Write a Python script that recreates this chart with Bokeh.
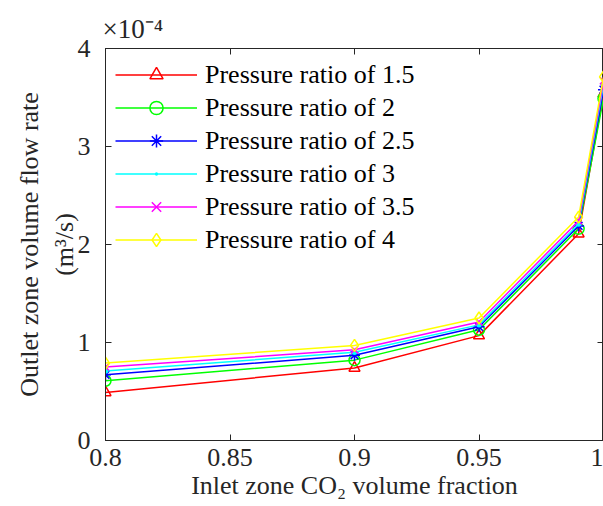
from bokeh.plotting import figure
from bokeh.models import Range1d, FixedTicker, LinearAxis, Legend, LegendItem
from bokeh.embed import file_html
from bokeh.resources import INLINE

# Data (flow rate in units of 1e-4 m^3/s)
co2_fraction = [0.8, 0.9, 0.95, 0.99, 1.0]
series_names = ["Pressure ratio of 1.5", "Pressure ratio of 2", "Pressure ratio of 2.5",
                "Pressure ratio of 3", "Pressure ratio of 3.5", "Pressure ratio of 4"]
ratio_1_5 = [0.49, 0.74, 1.07, 2.11, 3.54]
ratio_2 = [0.61, 0.82, 1.13, 2.16, 3.49]
ratio_2_5 = [0.67, 0.87, 1.16, 2.19, 3.58]
ratio_3 = [0.71, 0.90, 1.18, 2.21, 3.63]
ratio_3_5 = [0.75, 0.925, 1.21, 2.24, 3.67]
ratio_4 = [0.79, 0.97, 1.25, 2.28, 3.71]
series_values = [ratio_1_5, ratio_2, ratio_2_5, ratio_3, ratio_3_5, ratio_4]
colors = ["#ff0000", "#00ff00", "#0000ff", "#00ffff", "#ff00ff", "#ffff00"]
markers = ["triangle", "circle", "asterisk", "dot", "x", "diamond"]
marker_sizes = [11, 11, 11, 22, 10, 12]
marker_filled = [False, False, False, True, False, False]

x_ticks = [0.8, 0.85, 0.9, 0.95, 1.0]
x_tick_labels = {0.8: "0.8", 0.85: "0.85", 0.9: "0.9", 0.95: "0.95", 1.0: "1"}
y_ticks = [0, 1, 2, 3, 4]

FONT = "Liberation Serif"
AX = "#262626"

p = figure(width=603, height=506, output_backend="svg", toolbar_location=None,
           x_range=Range1d(0.8, 1.0), y_range=Range1d(0, 4),
           min_border_left=105, min_border_right=0, min_border_top=48, min_border_bottom=66)
p.grid.visible = False
p.outline_line_color = AX
p.outline_line_width = 1
p.background_fill_color = "white"
p.border_fill_color = "white"

p.title.text = "\u00d710\u207b\u2074"
p.title.align = "left"
p.title.offset = -3
p.title.standoff = 10
p.title.text_font = FONT
p.title.text_font_size = "27px"
p.title.text_font_style = "normal"
p.title.text_color = AX

items = []
for name, vals, c, m, s, f in zip(series_names, series_values, colors, markers, marker_sizes, marker_filled):
    r1 = p.line(co2_fraction, vals, line_color=c, line_width=1.5)
    r2 = p.scatter(co2_fraction, vals, marker=m, size=s, fill_color=c if f else None,
                   line_color=c, line_width=1.5)
    items.append(LegendItem(label=name, renderers=[r1, r2]))

legend = Legend(items=items, location="top_left",
                label_text_font=FONT, label_text_font_size="26px", label_text_color="black",
                glyph_width=82, glyph_height=33, label_height=33, spacing=0,
                padding=10, margin=0, label_standoff=8,
                border_line_alpha=0, background_fill_alpha=0)
p.add_layout(legend, "center")

for ax in (p.xaxis[0], p.yaxis[0]):
    ax.major_tick_in = 6
    ax.major_tick_out = 0
    ax.minor_tick_line_color = None
    ax.axis_line_color = AX
    ax.major_tick_line_color = AX
    ax.major_label_text_font = FONT
    ax.major_label_text_font_size = "26px"
    ax.major_label_text_color = AX
    ax.axis_label_text_font = FONT
    ax.axis_label_text_font_size = "26px"
    ax.axis_label_text_font_style = "normal"
    ax.axis_label_text_color = AX

p.xaxis[0].ticker = FixedTicker(ticks=x_ticks)
p.xaxis[0].major_label_overrides = x_tick_labels
p.xaxis[0].major_label_standoff = 8
p.xaxis[0].axis_label = "Inlet zone CO\u2082 volume fraction"
p.xaxis[0].axis_label_standoff = 2

p.yaxis[0].ticker = FixedTicker(ticks=y_ticks)
p.yaxis[0].major_label_standoff = 15
p.yaxis[0].axis_label = "Outlet zone volume flow rate\n(m\u00b3/s)"
p.yaxis[0].axis_label_standoff = -4

top = LinearAxis(ticker=FixedTicker(ticks=x_ticks), major_tick_in=6, major_tick_out=0,
                 minor_tick_line_color=None,
                 major_label_overrides={t: "" for t in x_ticks},
                 major_label_standoff=0, axis_line_color=AX, major_tick_line_color=AX)
right = LinearAxis(ticker=FixedTicker(ticks=y_ticks), major_tick_in=6, major_tick_out=0,
                   minor_tick_line_color=None,
                   major_label_overrides={t: "" for t in y_ticks},
                   major_label_standoff=0, axis_line_color=AX, major_tick_line_color=AX)
p.add_layout(top, "above")
p.add_layout(right, "right")

open("out.html", "w").write(file_html(p, INLINE))
